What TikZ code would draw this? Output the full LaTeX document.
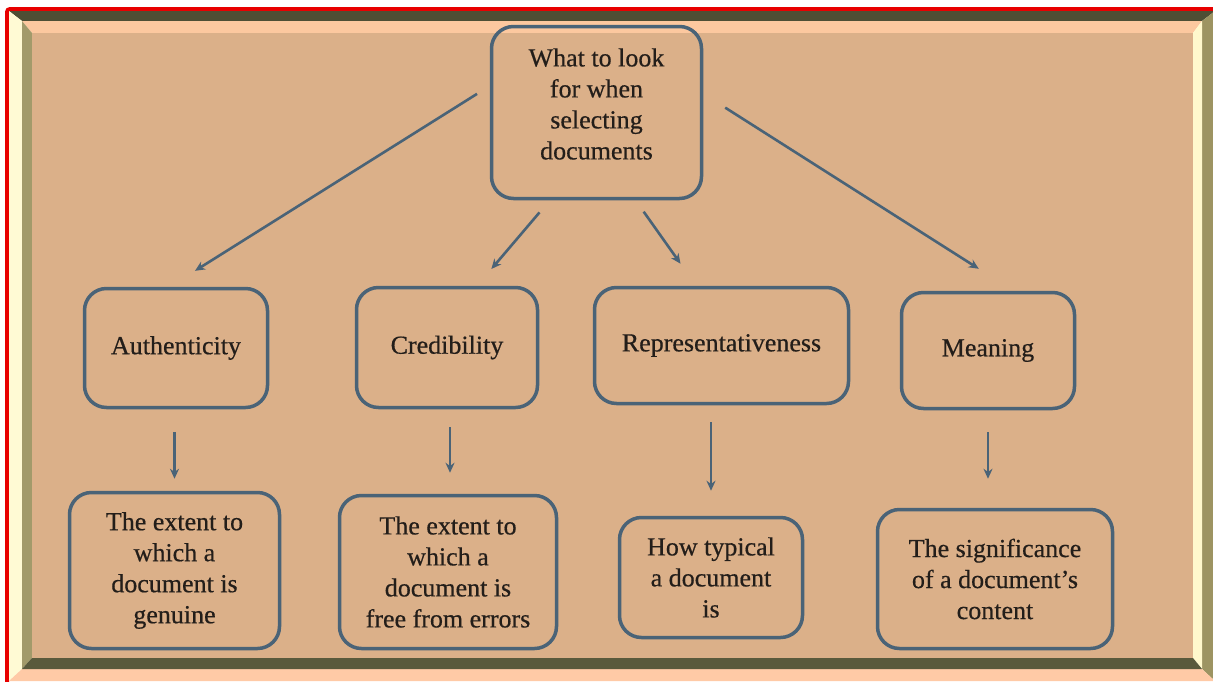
\documentclass[tikz,border=0pt]{standalone}
\usepackage{fontspec}
\setmainfont{Liberation Serif}
\newfontfamily\serifx[Ligatures=TeX,FakeBold=0.5]{Liberation Serif}
\usetikzlibrary{arrows.meta,calc}
\definecolor{face}{HTML}{DBB089}
\definecolor{edgeblue}{HTML}{4A6377}
\definecolor{txtc}{HTML}{231E1A}
\definecolor{fdark}{HTML}{4E4E34}
\definecolor{fdarkb}{HTML}{5A5A3C}
\definecolor{fcream}{HTML}{FFFAD4}
\definecolor{fcreamb}{HTML}{FFF8CC}
\definecolor{folive}{HTML}{9D9462}
\definecolor{foliveb}{HTML}{A29A6A}
\definecolor{fpink}{HTML}{FFCAA6}
\definecolor{fpinkb}{HTML}{FCC89F}
\definecolor{fred}{HTML}{E80000}
\tikzset{
  box/.style={draw=edgeblue, line width=3.5pt, rounded corners=22pt, fill=none,
    align=center, text=txtc, font=\serifx\fontsize{26pt}{31pt}\selectfont, inner sep=0pt},
  lbl/.style={align=center, text=txtc, font=\serifx\fontsize{26pt}{31pt}\selectfont, inner sep=0pt},
  arr/.style={draw=edgeblue, line width=2.6pt, -{Stealth[length=10pt,width=9pt]}},
}
\begin{document}
\begin{tikzpicture}[x=1pt,y=-1pt]
\useasboundingbox (0,0) rectangle (1213,681);
\clip (0,0) rectangle (1213,681);
\fill[white] (0,0) rectangle (1213,681);
% red outline
\draw[fred, line width=4pt, rounded corners=3pt] (7,9) rectangle (1240,700);
% outer bevel ring
\fill[fdark]  (9,11) -- (1215,11) -- (1202,21) -- (22,21) -- cycle;
\fill[fcream] (9,11) -- (22,21) -- (22,669) -- (9,681) -- cycle;
\fill[folive] (1215,11) -- (1215,681) -- (1202,669) -- (1202,21) -- cycle;
\fill[fpink]  (9,681) -- (22,669) -- (1202,669) -- (1215,681) -- cycle;
% inner bevel ring
\fill[fpinkb]  (22,21) -- (1202,21) -- (1193,33) -- (32,33) -- cycle;
\fill[foliveb] (22,21) -- (32,33) -- (32,658) -- (22,669) -- cycle;
\fill[fcreamb] (1202,21) -- (1202,669) -- (1193,658) -- (1193,33) -- cycle;
\fill[fdarkb]  (22,669) -- (32,658) -- (1193,658) -- (1202,669) -- cycle;
% face
\fill[face] (32,33) rectangle (1193,658);

% nodes
\node[box, minimum width=210pt, minimum height=172pt] (top) at (596.5,112.5) {};
\node[lbl] (toptext) at (596.5,104) {What to look\\for when\\selecting\\documents};

\node[box, minimum width=183pt, minimum height=119pt] (auth) at (176,348) {Authenticity};
\node[box, minimum width=181pt, minimum height=120pt] (cred) at (447,347.5) {Credibility};
\node[box, minimum width=254pt, minimum height=116pt] (rep) at (721.5,345.5) {Representativeness};
\node[box, minimum width=173pt, minimum height=116pt] (mean) at (988,350.5) {Meaning};

\node[box, minimum width=210pt, minimum height=156pt] (authd) at (174.5,570.5) {The extent to\\which a\\document is\\genuine};
\node[box, minimum width=217pt, minimum height=153pt] (credd) at (448,572) {The extent to\\which a\\document is\\free from errors};
\node[box, minimum width=183pt, minimum height=120pt] (repd) at (711,577.5) {How typical\\a document\\is};
\node[box, minimum width=235pt, minimum height=139pt] (meand) at (995,579) {The significance\\of a document’s\\content};

% connectors from the top box
\draw[arr, shorten <=15pt, shorten >=30pt] (top.166.5) -- (auth.96.3);
\draw[arr, shorten <=16pt, shorten >=22pt] (top.242.2) -- (cred.64.1);
\draw[arr, shorten <=14pt, shorten >=27pt] (top.294.7) -- (rep.113.6);
\draw[arr, shorten <=26pt, shorten >=41pt] (top.10.4) -- (mean.67.9);

% vertical connectors
\draw[arr, shorten <=23pt, shorten >=12pt] (authd.north |- auth.south) -- (authd.north);
\draw[arr, shorten <=18pt, shorten >=21pt] ([xshift=2pt]credd.north |- cred.south) -- ([xshift=2pt]credd.north);
\draw[arr, shorten <=17pt, shorten >=25pt] (repd.north |- rep.south) -- (repd.north);
\draw[arr, shorten <=22pt, shorten >=29pt] (mean.south) -- (mean.south |- meand.north);
\end{tikzpicture}
\end{document}
